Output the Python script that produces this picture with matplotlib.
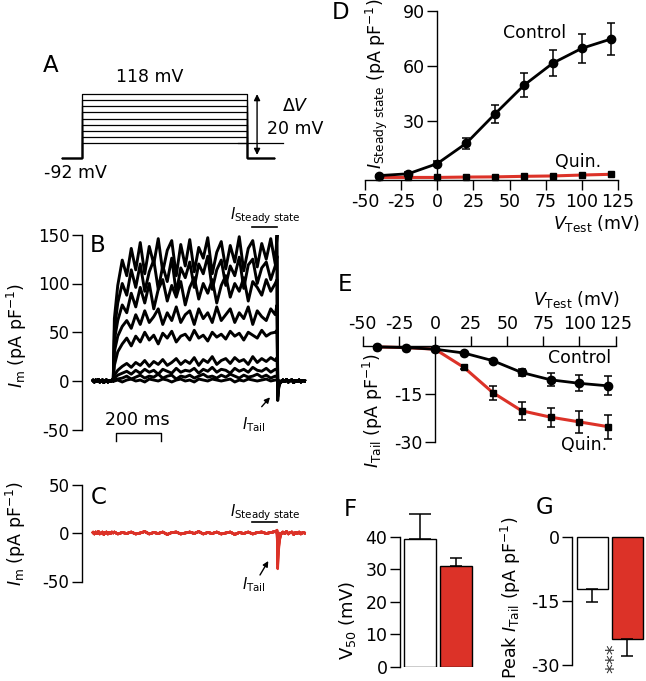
import numpy as np
import matplotlib.pyplot as plt

plt.rcParams["font.family"] = ["DejaVu Sans"]
plt.rcParams["mathtext.fontset"] = "dejavusans"
plt.rcParams["axes.unicode_minus"] = False

W, H = 646, 681
red = "#dc3228"
black = "#000000"

# ---------------- data ----------------
# A: voltage protocol (mV, ms)
hold_mv = -92
step_mv = [-42, -22, -2, 18, 38, 58, 78, 98, 118]
step_on, step_off, sweep_end = 90, 820, 940

# B / C: sampled current traces (pA/pF) against time (ms)
pre_t = list(range(0, 90, 6))
step_t = [90, 95] + list(range(110, 811, 20))
tail_t = [818, 821, 825, 830]
post_t = list(range(836, 945, 8))

pre_noise = [0.5, -1, 1, -0.5, 1.5, -1, 0, 1, -1.5, 0.5, 1, -1, 0.5, -0.5, 1]
post_noise = [-1, 1, -0.5, 1.5, -1, 0.5, 1, -1.5, 0.5, -0.5, 1, -1, 0.5, 0]

b_steps = [
    [0, 0, 1, -1, 1, 2, 0, 1, -1, 2, 1, 0, 2, 1, -1, 1, 2, 0, 1, -1, 2, 1, 0, 2, 1, 0, 1, 2, -1, 1, 0, 2, 1, 0, 1, 2, 0, 1],
    [0, 1, 2, 3, 5, 2, 4, 6, 3, 5, 4, 7, 3, 5, 6, 2, 5, 4, 6, 3, 5, 7, 4, 5, 3, 6, 4, 7, 5, 3, 6, 4, 5, 7, 4, 6, 3, 5],
    [0, 3, 6, 8, 10, 7, 11, 8, 12, 9, 11, 7, 12, 10, 8, 13, 9, 11, 10, 13, 8, 12, 10, 14, 9, 12, 11, 8, 13, 10, 12, 9, 14, 11, 10, 13, 9, 12],
    [0, 6, 11, 15, 18, 14, 19, 16, 21, 15, 20, 17, 22, 16, 19, 23, 17, 21, 18, 24, 16, 22, 19, 25, 17, 21, 23, 18, 24, 20, 22, 17, 25, 19, 23, 20, 24, 21],
    [0, 16, 30, 38, 44, 36, 46, 40, 50, 42, 47, 38, 49, 44, 51, 40, 46, 48, 42, 52, 44, 47, 41, 50, 45, 48, 43, 51, 46, 49, 42, 50, 47, 44, 52, 46, 49, 50],
    [0, 30, 46, 56, 62, 54, 68, 58, 72, 60, 66, 74, 58, 70, 62, 76, 60, 68, 72, 58, 74, 64, 70, 60, 76, 62, 68, 74, 60, 70, 64, 76, 58, 72, 66, 62, 74, 68],
    [0, 42, 62, 78, 70, 90, 76, 96, 80, 100, 74, 94, 104, 82, 98, 86, 102, 78, 96, 106, 84, 100, 90, 104, 80, 98, 108, 86, 100, 92, 106, 82, 102, 96, 88, 104, 92, 100],
    [0, 52, 80, 100, 88, 114, 96, 120, 92, 112, 124, 94, 118, 102, 126, 90, 116, 106, 122, 96, 120, 110, 128, 94, 114, 124, 98, 118, 108, 127, 95, 119, 125, 100, 116, 122, 104, 118],
    [0, 64, 98, 124, 108, 136, 114, 142, 110, 138, 120, 146, 112, 134, 144, 108, 140, 118, 145, 112, 137, 126, 147, 110, 132, 143, 115, 139, 122, 148, 113, 136, 144, 117, 141, 125, 146, 120],
]
b_tails = [
    [1, 0, 0, 0], [5, -1, 0, 0], [12, -2, -1, 0], [24, -4, -2, -1], [52, -7, -3, -1],
    [78, -10, -4, -1], [104, -13, -5, -2], [128, -16, -6, -2], [150, -20, -8, -3],
]

c_step = [0, 1, -1, 0.5, -0.5, 1, -1, 0, 1.5, -1, 0.5, -0.5, 1, -1.5, 0.5, 1, -1, 0, 1, -0.5,
          1.5, -1, 0.5, -0.5, 1, -1, 0, 1, -1.5, 0.5, -0.5, 1, -1, 0.5, 1, -0.5, 0.5, 1.5]
c_tails = [
    [0, -2, -1, 0], [0, -5, -2, -1], [1, -9, -4, -1], [1, -14, -6, -2], [2, -19, -8, -3],
    [2, -24, -11, -4], [2, -28, -13, -5], [3, -33, -15, -6], [3, -37, -18, -7],
]

# D / E: I-V relations
v_test = [-40, -20, 0, 20, 40, 60, 80, 100, 120]
d_ctrl = [0.5, 1.5, 7, 18, 34, 49.5, 61.5, 69.5, 74.5]
d_ctrl_err = [0.5, 0.8, 1.5, 3, 5, 6.5, 7, 8, 8.5]
d_quin = [-0.5, -0.5, -0.5, -0.3, -0.2, 0.1, 0.3, 0.8, 1.2]
e_ctrl = [-0.3, -0.5, -1, -2.2, -4.6, -8.3, -10.6, -11.7, -12.5]
e_ctrl_err = [0.2, 0.2, 0.3, 0.4, 0.6, 1, 2, 2.5, 3]
e_quin = [-0.3, -0.5, -1, -6.7, -14.6, -20.3, -22.3, -23.8, -25.3]
e_quin_err = [0.2, 0.2, 0.3, 0.6, 2.2, 2.9, 3, 3.5, 3.8]

# F / G: bar summaries (control, quinidine)
f_v50 = [39.2, 31.1]
f_err = [7.8, 2.2]
g_tail = [-12.2, -23.9]
g_err = [3.1, 3.9]

# ---------------- helpers ----------------
fig = plt.figure(figsize=(W / 100, H / 100), dpi=100)


def add_ax(left, top, right, bottom):
    ax = fig.add_axes([left / W, 1 - bottom / H, (right - left) / W, (bottom - top) / H])
    ax.patch.set_alpha(0)
    return ax


def ftext(x, y, s, **kw):
    kw.setdefault("ha", "center")
    kw.setdefault("va", "center")
    fig.text(x / W, 1 - y / H, s, **kw)


def farrow(ax, x0, y0, x1, y1):
    ax.annotate("", xy=(x1 / W, 1 - y1 / H), xytext=(x0 / W, 1 - y0 / H),
                xycoords="figure fraction", textcoords="figure fraction",
                arrowprops=dict(arrowstyle="-|>", color=black, lw=1.0,
                                mutation_scale=8, shrinkA=0, shrinkB=0))


def style(ax, size):
    for s in ax.spines.values():
        s.set_linewidth(1.0)
    ax.tick_params(direction="out", length=7, width=1.0, labelsize=size, pad=2)


LBL = 16.5
TXT = 12.5
ILBL = r"(pA pF$^{-1}$)"

# ---------------- A ----------------
ax_a = add_ax(39.5, 69, 298.25, 179.1)
ax_a.set_xlim(-100, 1050)
ax_a.set_ylim(-160, 200)
ax_a.axis("off")
for v in step_mv:
    ax_a.plot([0, step_on, step_on, step_off, step_off, sweep_end],
              [hold_mv, hold_mv, v, v, hold_mv, hold_mv], color=black, lw=0.9)
ax_a.plot([782, 982], [step_mv[0], step_mv[0]], color=black, lw=0.9)
ax_a.annotate("", xy=(867, step_mv[-1]), xytext=(867, -81),
              arrowprops=dict(arrowstyle="<|-|>", color=black, lw=1.0,
                              mutation_scale=9, shrinkA=0, shrinkB=0))
ftext(51, 65, "A", fontsize=LBL)
ftext(150, 77, "118 mV", fontsize=TXT)
ftext(75, 173, "-92 mV", fontsize=TXT)
ftext(295, 106, r"Δ$V$", fontsize=TXT)
ftext(295, 128.5, "20 mV", fontsize=TXT)

# ---------------- B ----------------
ax_b = add_ax(81.75, 234.75, 311.25, 429.75)
ax_b.set_xlim(-50, 970)
ax_b.set_ylim(-50, 150)
for k in ["top", "right", "bottom"]:
    ax_b.spines[k].set_visible(False)
ax_b.set_xticks([])
ax_b.set_yticks([-50, 0, 50, 100, 150])
style(ax_b, 12)
t_all = pre_t + step_t + tail_t + post_t
for steps, tail in zip(b_steps, b_tails):
    ax_b.plot(t_all, pre_noise + steps + tail + post_noise, color=black, lw=2.1)
ax_b.plot([707, 818], [158, 158], color=black, lw=1.2, clip_on=False)
ax_b.plot([100, 100, 300, 300], [-61.5, -53.3, -53.3, -61.5], color=black, lw=1.0, clip_on=False)
ftext(137, 420, "200 ms", fontsize=TXT)
ftext(98, 245, "B", fontsize=LBL)
ftext(265, 216, r"$I_{\mathrm{Steady\ state}}$", fontsize=10.5)
ftext(254, 425, r"$I_{\mathrm{Tail}}$", fontsize=10.5)
farrow(ax_b, 261.7, 406.7, 270, 397.3)
ftext(17, 335, r"$I_{\mathrm{m}}$ " + ILBL, fontsize=TXT, rotation=90)

# ---------------- C ----------------
ax_c = add_ax(81.75, 484.5, 311.25, 581.5)
ax_c.set_xlim(-50, 970)
ax_c.set_ylim(-50, 50)
for k in ["top", "right", "bottom"]:
    ax_c.spines[k].set_visible(False)
ax_c.set_xticks([])
ax_c.set_yticks([-50, 0, 50])
style(ax_c, 12)
for tail in c_tails:
    ax_c.plot(t_all, pre_noise + c_step + tail + post_noise, color=red, lw=1.8)
ax_c.plot([707, 818], [11.3, 11.3], color=black, lw=1.2, clip_on=False)
ftext(99, 498, "C", fontsize=LBL)
ftext(265, 513, r"$I_{\mathrm{Steady\ state}}$", fontsize=10.5)
ftext(254, 585, r"$I_{\mathrm{Tail}}$", fontsize=10.5)
farrow(ax_c, 260, 575, 268.3, 561)
ftext(16, 533, r"$I_{\mathrm{m}}$ " + ILBL, fontsize=TXT, rotation=90)

# ---------------- D ----------------
ax_d = add_ax(365, 10.5, 618, 180.2)
ax_d.set_xlim(-50, 125)
ax_d.set_ylim(-2, 90)
ax_d.spines["top"].set_visible(False)
ax_d.spines["right"].set_visible(False)
ax_d.spines["left"].set_position(("data", 0))
ax_d.set_yticks([30, 60, 90])
ax_d.set_xticks(list(range(-50, 126, 25)))
style(ax_d, TXT)
ax_d.plot(v_test, d_quin, color=red, lw=2.2, zorder=2, clip_on=False)
ax_d.plot(v_test, d_quin, "s", color=black, ms=5, zorder=4, clip_on=False)
ax_d.errorbar(v_test, d_ctrl, yerr=d_ctrl_err, color=black, lw=2.0, marker="o", ms=6,
              elinewidth=1.1, capsize=3, capthick=1.1, zorder=3, clip_on=False)
ftext(341, 12.5, "D", fontsize=LBL)
ftext(535, 33.5, "Control", fontsize=TXT)
ftext(578, 162, "Quin.", fontsize=TXT)
ftext(377, 84, r"$I_{\mathrm{Steady\ state}}$ " + ILBL, fontsize=TXT, rotation=90)
ftext(596, 223, r"$V_{\mathrm{Test}}$ (mV)", fontsize=TXT)

# ---------------- E ----------------
ax_e = add_ax(362.8, 342.8, 615.5, 441.7)
ax_e.set_xlim(-50, 125)
ax_e.set_ylim(-30, 1)
ax_e.spines["bottom"].set_visible(False)
ax_e.spines["right"].set_visible(False)
ax_e.spines["top"].set_position(("data", 0))
ax_e.spines["left"].set_position(("data", 0))
ax_e.spines["left"].set_bounds(-30, 0)
ax_e.xaxis.tick_top()
ax_e.set_xticks(list(range(-50, 126, 25)))
ax_e.set_yticks([-15, -30])
style(ax_e, TXT)
ax_e.errorbar(v_test, e_quin, yerr=e_quin_err, color=red, lw=2.2, ecolor=black,
              elinewidth=1.1, capsize=3, capthick=1.1, zorder=2, clip_on=False)
ax_e.plot(v_test, e_quin, "s", color=black, ms=5, zorder=4, clip_on=False)
ax_e.errorbar(v_test, e_ctrl, yerr=e_ctrl_err, color=black, lw=2.0, marker="o", ms=6,
              elinewidth=1.1, capsize=3, capthick=1.1, zorder=3, clip_on=False)
ftext(345, 285, "E", fontsize=LBL)
ftext(580, 358, "Control", fontsize=TXT)
ftext(584, 445, "Quin.", fontsize=TXT)
ftext(576, 300, r"$V_{\mathrm{Test}}$ (mV)", fontsize=TXT)
ftext(373, 411, r"$I_{\mathrm{Tail}}$ " + ILBL, fontsize=TXT, rotation=90)

# ---------------- F ----------------
ax_f = add_ax(400, 510.7, 477.3, 666.7)
ax_f.set_xlim(-0.56, 1.6)
ax_f.set_ylim(0, 48)
for k in ["top", "right", "bottom"]:
    ax_f.spines[k].set_visible(False)
ax_f.spines["left"].set_bounds(0, 40)
ax_f.set_xticks([])
ax_f.set_yticks([0, 10, 20, 30, 40])
style(ax_f, TXT)
ax_f.bar([0, 1], f_v50, width=0.89, color=["white", red], edgecolor=black, lw=1.0)
ax_f.errorbar([0], f_v50[:1], yerr=[[0], f_err[:1]], fmt="none", ecolor=black,
              elinewidth=1.1, capsize=8, capthick=1.1)
ax_f.errorbar([1], f_v50[1:], yerr=[[0], f_err[1:]], fmt="none", ecolor=black,
              elinewidth=1.1, capsize=4.5, capthick=1.1)
ftext(350, 509, "F", fontsize=LBL)
ftext(347, 620, r"V$_{50}$ (mV)", fontsize=13, rotation=90)

# ---------------- G ----------------
ax_g = add_ax(572, 537, 646, 665)
ax_g.set_xlim(-0.586, 1.53)
ax_g.set_ylim(-30, 0)
for k in ["top", "right", "bottom"]:
    ax_g.spines[k].set_visible(False)
ax_g.spines["left"].set_bounds(-30, 0)
ax_g.set_xticks([])
ax_g.set_yticks([0, -15, -30])
style(ax_g, TXT)
ax_g.bar([0, 1], g_tail, width=0.89, color=["white", red], edgecolor=black, lw=1.0, clip_on=False)
ax_g.errorbar([0, 1], g_tail, yerr=[g_err, [0, 0]], fmt="none", ecolor=black,
              elinewidth=1.1, capsize=4.5, capthick=1.1, clip_on=False)
ftext(545, 508, "G", fontsize=LBL)
ftext(614, 658, "***", fontsize=14, rotation=90, color="#333333")
ftext(511, 598, r"Peak $I_{\mathrm{Tail}}$ " + ILBL, fontsize=TXT, rotation=90)

fig.savefig("out.png", dpi=100)
